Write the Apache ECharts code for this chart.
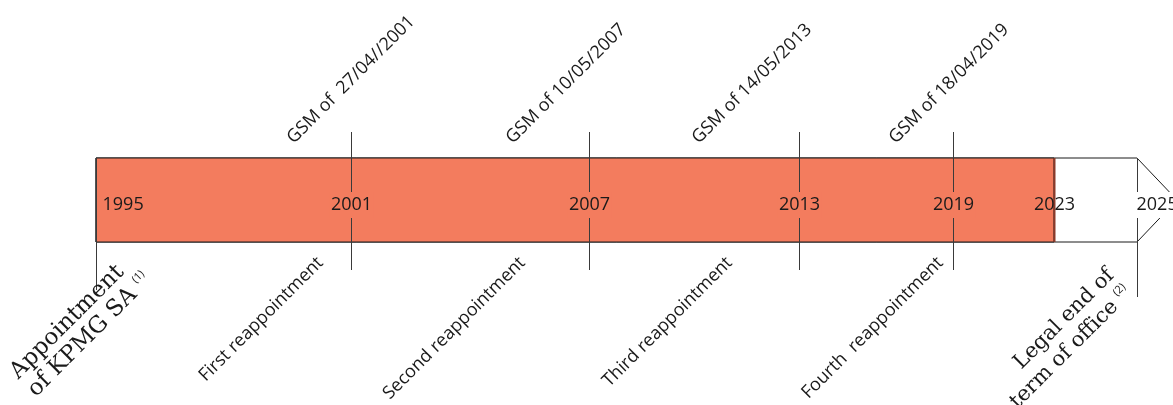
<!DOCTYPE html>
<html>
<head>
<meta charset="utf-8">
<script src="https://cdn.jsdelivr.net/npm/echarts@6/dist/echarts.min.js"></script>
<style>
html,body{margin:0;padding:0;background:#fff;}
#timeline{width:1173px;height:405px;}
</style>
</head>
<body>
<div id="timeline"></div>
<script>
var years = ['1995', '2001', '2007', '2013', '2019', '2023', '2025'];
// place of each year on the drawn timeline (the original is not drawn to scale)
var milestoneAt = [0, 255, 493, 703, 857, 958, 1041];
var gsmLabels = ['GSM of  27/04//2001', 'GSM of 10/05/2007', 'GSM of 14/05/2013', 'GSM of 18/04/2019'];
var reappointments = ['First reappointment', 'Second reappointment', 'Third reappointment', 'Fourth  reappointment'];
var startLabel = ['Appointment', 'of KPMG SA', '(1)'];
var endLabel = ['Legal end of', 'term of office', '(2)'];
var mandateEnd = '2023';
var legalEnd = '2025';

var bandColor = '#F37C5E';
var lineColor = '#3a3a3a';
var sans = '"Open Sans", "Noto Sans", sans-serif';
var serif = '"DejaVu Serif", "Liberation Serif", serif';

// nudges for the slanted labels, from the tick they belong to
var gsmShift = [-55, -74, -98, -55];
var reapShift = [-31, -67, -70, -13];

var served = years.indexOf(mandateEnd);
var last = years.indexOf(legalEnd);

function renderBand(params, api) {
	var a = api.coord([api.value(0), 1]);
	var b = api.coord([api.value(1), -1]);
	var c = api.coord([api.value(2), 0]);
	var top = a[1], bottom = b[1], mid = c[1];
	var outline = [[a[0], top], [c[0], top], [c[0] + 40, mid], [c[0], bottom], [a[0], bottom]];
	return {
		type: 'group',
		children: [
			{type: 'polygon', shape: {points: outline}, style: {fill: '#fff', stroke: '#1a1a1a', lineWidth: 1}},
			{type: 'rect', shape: {x: a[0], y: top, width: b[0] - a[0], height: bottom - top},
				style: {fill: bandColor, stroke: '#1a1a1a', lineWidth: 1}}
		]
	};
}

function renderMilestone(params, api) {
	var i = params.dataIndex;
	var pt = api.coord([api.value(0), 1]);
	var pb = api.coord([api.value(0), -1]);
	var x = Math.round(pt[0]) + 0.5;
	var top = Math.round(pt[1]), bottom = Math.round(pb[1]);
	var mid = (top + bottom) / 2 + 5;
	var kids = [];
	var y1 = top, y2 = bottom, stroke = lineColor, lw = 1;
	var yearStyle = {text: years[i], fill: '#1a1a1a', fontSize: 18, fontFamily: sans,
		align: 'center', verticalAlign: 'middle', padding: [4, 1]};
	var lx = x;

	if (i === 0) {
		y2 = bottom + 48;
		yearStyle.align = 'left';
		lx = x + 5;
	} else if (i === served) {
		stroke = '#8a3a2a';
		lw = 2;
	} else if (i === last) {
		y2 = bottom + 55;
		yearStyle.align = 'left';
		yearStyle.backgroundColor = '#fff';
		lx = x - 2;
	} else {
		y1 = top - 26;
		y2 = bottom + 28;
		yearStyle.backgroundColor = bandColor;
		var k = i - 1;
		kids.push({type: 'text', x: x + gsmShift[k], y: top - 11, rotation: Math.PI / 4,
			style: {text: gsmLabels[k], fill: '#1a1a1a', fontSize: 18, fontFamily: sans,
				align: 'left', verticalAlign: 'bottom'}});
		kids.push({type: 'text', x: x + reapShift[k], y: bottom + 18, rotation: Math.PI / 4,
			style: {text: reappointments[k], fill: '#1a1a1a', fontSize: 18, fontFamily: sans,
				align: 'right', verticalAlign: 'middle'}});
	}
	kids.unshift({type: 'line', shape: {x1: x, y1: y1, x2: x, y2: y2}, style: {stroke: stroke, lineWidth: lw}});
	kids.push({type: 'text', x: lx, y: mid, style: yearStyle});

	if (i === 0) {
		kids.push({type: 'text', x: x - 56, y: bottom + 160, rotation: Math.PI / 4,
			style: {text: startLabel[0] + '\n' + startLabel[1] + ' {sup|' + startLabel[2] + '}',
				fill: '#1a1a1a', fontSize: 23, fontFamily: serif, lineHeight: 25,
				align: 'left', verticalAlign: 'bottom',
				rich: {sup: {fontSize: 11, fontFamily: sans, verticalAlign: 'top', fill: '#1a1a1a'}}}});
	}
	if (i === last) {
		kids.push({type: 'text', x: x, y: y2 + 2, rotation: Math.PI / 4,
			style: {text: endLabel[0] + '\n' + endLabel[1] + ' {sup|' + endLabel[2] + '}',
				fill: '#1a1a1a', fontSize: 21, fontFamily: serif, lineHeight: 25,
				align: 'right', verticalAlign: 'bottom',
				rich: {sup: {fontSize: 11, fontFamily: sans, verticalAlign: 'top', fill: '#1a1a1a'}}}});
	}
	return {type: 'group', children: kids};
}

var chart = echarts.init(document.getElementById('timeline'));
chart.setOption({
	animation: false,
	grid: {left: 96, right: 0, top: 158, bottom: 163},
	xAxis: {type: 'value', min: 0, max: 1077, show: false},
	yAxis: {type: 'value', min: -1, max: 1, show: false},
	series: [
		{
			type: 'custom',
			renderItem: renderBand,
			data: [[milestoneAt[0], milestoneAt[served], milestoneAt[last]]],
			clip: false,
			silent: true
		},
		{
			type: 'custom',
			renderItem: renderMilestone,
			data: milestoneAt.map(function(p, i){ return [p, i]; }),
			clip: false,
			silent: true
		}
	]
});
</script>
</body>
</html>
